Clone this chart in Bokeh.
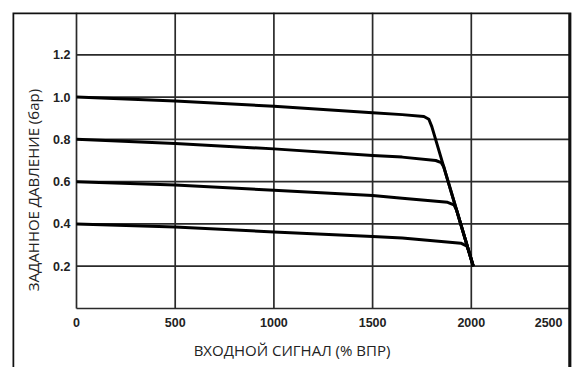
from bokeh.plotting import figure
from bokeh.models import Range1d, FixedTicker, PrintfTickFormatter, BoxAnnotation
from bokeh.embed import file_html
from bokeh.resources import INLINE

# ---- data ----
x_ticks = [0, 500, 1000, 1500, 2000, 2500]
y_ticks = [0.2, 0.4, 0.6, 0.8, 1.0, 1.2]
x_grid = [0, 500, 1000, 1500, 2000]
y_grid = [0.0, 0.2, 0.4, 0.6, 0.8, 1.0, 1.2]
x_max = 2500
y_max = 1.4

c1_x = [0, 500, 1000, 1500, 1650, 1760, 1785, 1800, 2010]
c1_y = [1.0, 0.981, 0.957, 0.926, 0.917, 0.908, 0.895, 0.86, 0.2]
c2_x = [0, 500, 1000, 1500, 1650, 1820, 1848, 1860, 2010]
c2_y = [0.8, 0.781, 0.755, 0.724, 0.716, 0.70, 0.69, 0.671, 0.2]
c3_x = [0, 500, 1000, 1500, 1650, 1880, 1912, 1925, 2010]
c3_y = [0.6, 0.584, 0.559, 0.535, 0.521, 0.502, 0.49, 0.467, 0.2]
c4_x = [0, 500, 1000, 1500, 1650, 1947, 1978, 1990, 2010]
c4_y = [0.4, 0.385, 0.362, 0.34, 0.333, 0.309, 0.295, 0.263, 0.2]

x_title = "ВХОДНОЙ СИГНАЛ (% ВПР)"
y_title = "ЗАДАННОЕ ДАВЛЕНИЕ (бар)"

W, H = 577, 367
# the frame is the outer box; the chart area (0..2500, 0..1.4) sits inside it
p = figure(width=W, height=H, output_backend="svg", toolbar_location=None,
           x_range=Range1d(-324.2, 2507.6), y_range=Range1d(-0.279, y_max),
           min_border_left=12, min_border_right=6, min_border_top=12, min_border_bottom=0)
p.background_fill_color = "white"
p.border_fill_color = "white"
p.outline_line_color = None
p.xgrid.visible = False
p.ygrid.visible = False

# grid lines of the chart area
grid_color = "#2a2a2a"
p.segment(x0=x_grid, y0=[0] * len(x_grid), x1=x_grid, y1=[y_max] * len(x_grid),
          line_color=grid_color, line_width=1.7)
p.segment(x0=[0] * len(y_grid), y0=y_grid, x1=[x_max] * len(y_grid), y1=y_grid,
          line_color=grid_color, line_width=1.7)

for xs, ys in [(c1_x, c1_y), (c2_x, c2_y), (c3_x, c3_y), (c4_x, c4_y)]:
    p.line(xs, ys, line_color="black", line_width=3, line_join="round")

# outer box (bottom edge runs below the picture)
fw = W - 12 - 6
fh = H - 12
p.add_layout(BoxAnnotation(left=0, right=fw - 1.5, top=fh, bottom=-60,
                           left_units="screen", right_units="screen",
                           top_units="screen", bottom_units="screen",
                           fill_color=None, fill_alpha=0,
                           line_color="#111111", line_alpha=1, line_width=3.5))

p.xaxis.fixed_location = 0
p.yaxis.fixed_location = 0
p.xaxis.ticker = FixedTicker(ticks=x_ticks)
p.yaxis.ticker = FixedTicker(ticks=y_ticks)
p.yaxis.formatter = PrintfTickFormatter(format="%.1f")
# last label sits left of its tick so it stays inside the box
p.xaxis.major_label_overrides = {2500: "2500\u2003\u2009"}
for ax in (p.xaxis, p.yaxis):
    ax.axis_line_color = None
    ax.major_tick_line_color = None
    ax.minor_tick_line_color = None
    ax.major_tick_out = 0
    ax.major_tick_in = 0
    ax.minor_tick_out = 0
    ax.major_label_text_font = "Liberation Sans"
    ax.major_label_text_font_style = "bold"
    ax.major_label_text_font_size = "12.5px"
    ax.major_label_text_color = "#222222"
    ax.axis_label_text_font = "Open Sans"
    ax.axis_label_text_font_style = "normal"
    ax.axis_label_text_font_size = "15px"
    ax.axis_label_text_color = "#222222"
p.xaxis.major_label_standoff = 7
p.yaxis.major_label_standoff = 6
p.xaxis.axis_label = x_title
p.yaxis.axis_label = y_title
p.xaxis.axis_label_standoff = 7
p.yaxis.axis_label_standoff = 7

open("out.html", "w").write(file_html(p, INLINE))
